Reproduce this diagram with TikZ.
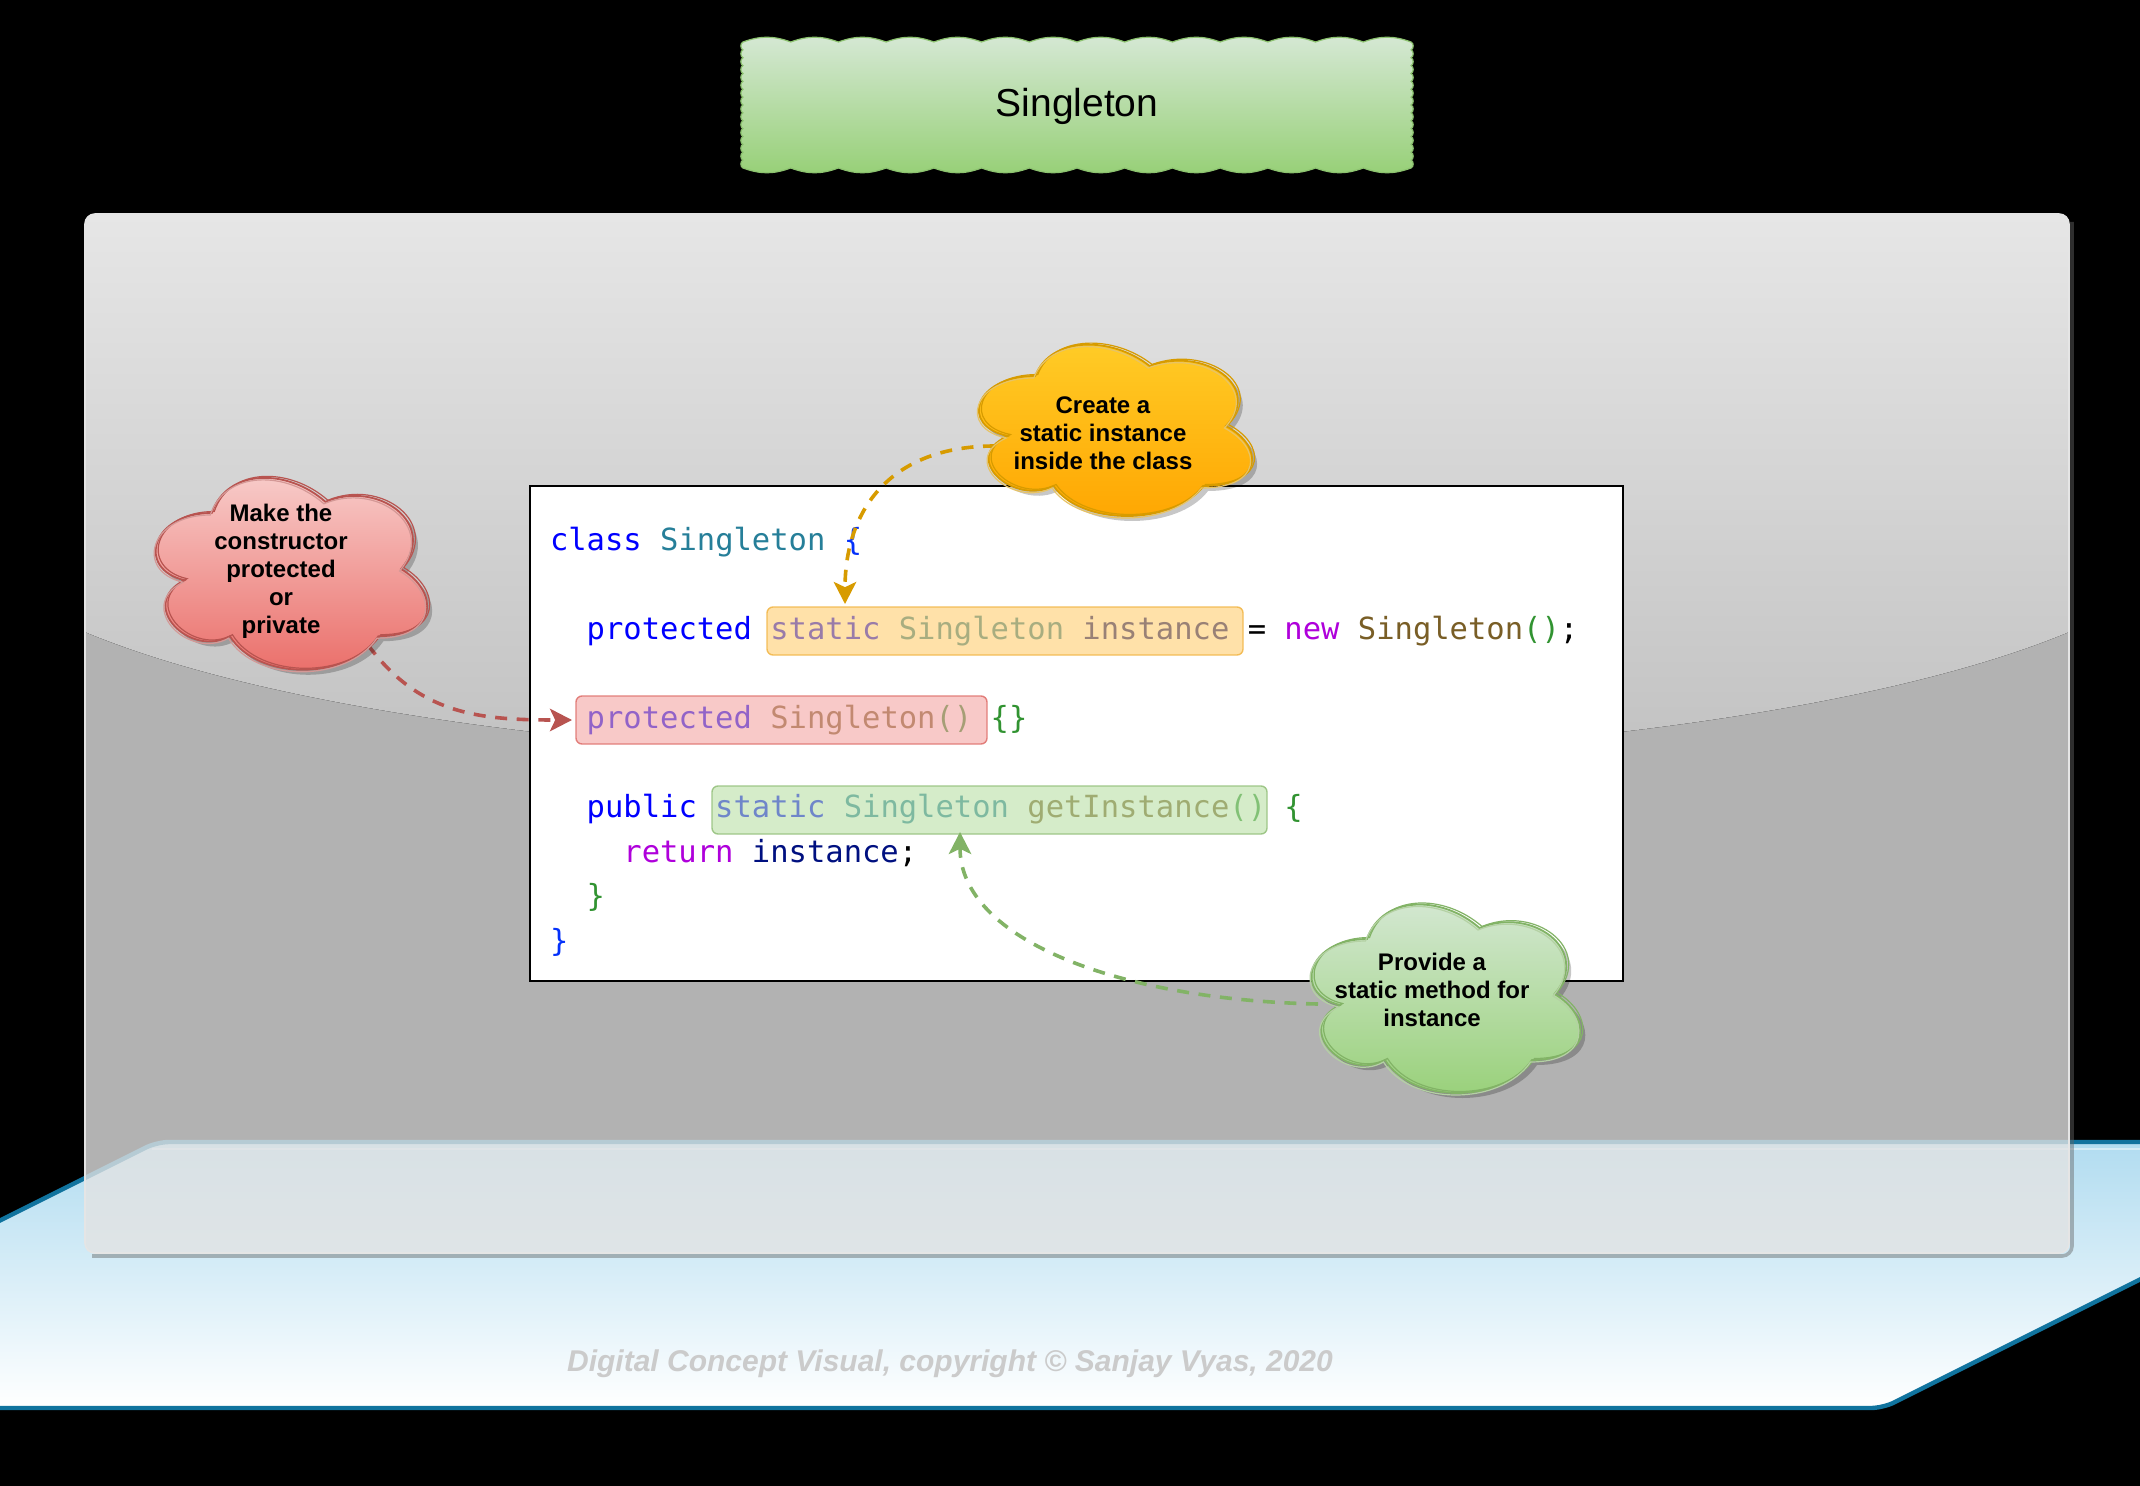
\documentclass[tikz,border=0pt]{standalone}
\usepackage{fontspec}
\setmainfont{Liberation Sans}
\newfontfamily\codefont{DejaVu Sans Mono}
\usetikzlibrary{arrows.meta,calc}

% syntax colours
\definecolor{kwblue}{HTML}{0000FF}
\definecolor{typeteal}{HTML}{267F99}
\definecolor{varnavy}{HTML}{001080}
\definecolor{ctrlpink}{HTML}{AF00DB}
\definecolor{funcbrown}{HTML}{795E26}
\definecolor{braceblue}{HTML}{0431FA}
\definecolor{bracegreen}{HTML}{319331}
% scene colours
\definecolor{floortop}{HTML}{B1DCF0}
\definecolor{floorline}{HTML}{10739E}
\definecolor{panelgray}{HTML}{E3E3E3}
\definecolor{glosstop}{HTML}{E6E6E6}
\definecolor{glossbot}{HTML}{BFBFBF}
\definecolor{titletop}{HTML}{D5E8D4}
\definecolor{titlebot}{HTML}{97D077}
\definecolor{titleline}{HTML}{8CC26F}
\definecolor{redtop}{HTML}{F8CECC}
\definecolor{redbot}{HTML}{EA6B66}
\definecolor{redline}{HTML}{B85450}
\definecolor{orangetop}{HTML}{FFCD28}
\definecolor{orangebot}{HTML}{FFA500}
\definecolor{orangeline}{HTML}{D79B00}
\definecolor{greentop}{HTML}{D5E8D4}
\definecolor{greenbot}{HTML}{97D077}
\definecolor{greenline}{HTML}{82B366}
\definecolor{hlorange}{HTML}{FFCD70}
\definecolor{hlorangeline}{HTML}{F2B84B}
\definecolor{hlred}{HTML}{F4A6A4}
\definecolor{hlredline}{HTML}{E07470}
\definecolor{hlgreen}{HTML}{B9E0A5}
\definecolor{hlgreenline}{HTML}{97C27F}
\definecolor{copygray}{HTML}{CBCBCB}

% cloud outline in a box: left, top, width, height
\newcommand\cloudpath[4]{%
  ({#1+0.25*#3},{#2+0.25*#4})
  .. controls ({#1+0.05*#3},{#2+0.25*#4}) and ({#1},{#2+0.5*#4}) .. ({#1+0.16*#3},{#2+0.55*#4})
  .. controls ({#1},{#2+0.66*#4}) and ({#1+0.18*#3},{#2+0.9*#4}) .. ({#1+0.31*#3},{#2+0.8*#4})
  .. controls ({#1+0.4*#3},{#2+#4}) and ({#1+0.7*#3},{#2+#4}) .. ({#1+0.8*#3},{#2+0.8*#4})
  .. controls ({#1+#3},{#2+0.8*#4}) and ({#1+#3},{#2+0.6*#4}) .. ({#1+0.875*#3},{#2+0.5*#4})
  .. controls ({#1+#3},{#2+0.3*#4}) and ({#1+0.8*#3},{#2+0.1*#4}) .. ({#1+0.625*#3},{#2+0.2*#4})
  .. controls ({#1+0.5*#3},{#2+0.05*#4}) and ({#1+0.3*#3},{#2+0.05*#4}) .. ({#1+0.25*#3},{#2+0.25*#4})
  -- cycle}

% sketchy shaded cloud: left, top, width, height, top colour, bottom colour, line colour
\newcommand\drawcloud[7]{%
  \fill[black, opacity=0.22, shift={(5,5)}] \cloudpath{#1}{#2}{#3}{#4};
  \path[top color=#5, bottom color=#6, draw=#7, line width=0.45pt] \cloudpath{#1}{#2}{#3}{#4};
  \draw[#7, line width=0.3pt, shift={(2.5,-1.5)}] \cloudpath{#1}{#2}{#3}{#4};
  \draw[#7!60!white, line width=0.3pt, shift={(-1.5,2)}] \cloudpath{#1}{#2}{#3}{#4};
}

\tikzset{
  codeline/.style={anchor=base west, inner sep=0pt, outer sep=0pt,
    font=\codefont\fontsize{7.625pt}{11pt}\selectfont},
  hlbox/.style={rounded corners=1.5pt, inner sep=0pt, outer sep=0pt,
    minimum height=12pt, fill opacity=0.6, draw opacity=0.9, line width=0.35pt},
  notetext/.style={align=center, inner sep=0pt, text=black,
    font=\fontsize{6pt}{7pt}\selectfont\bfseries},
  hintarrow/.style={line width=0.9pt, dash pattern=on 3pt off 2.4pt,
    -{Stealth[length=5.5pt,width=5.6pt,inset=1.3pt]}},
  codebox/.style={draw=black, fill=white, line width=0.5pt, inner sep=0pt, outer sep=0pt}
}

\begin{document}
\begin{tikzpicture}[x=0.25pt,y=-0.25pt]
  % canvas
  \fill[black] (0,0) rectangle (2140,1486);
  \useasboundingbox (0,0) rectangle (2140,1486);

  % floor
  \begin{scope}
    \clip (0,0) rectangle (2140,1486);
    \path[top color=floortop, bottom color=white, draw=floorline, line width=1.1pt,
          rounded corners=3pt]
      (157,1142) -- (2415,1142) -- (1883,1408) -- (-375,1408) -- cycle;
    \draw[white, opacity=0.45, line width=0.6pt] (152,1149) -- (2140,1149);
  \end{scope}

  % glass panel
  \draw[black!60, opacity=0.45, line width=0.9pt, rounded corners=2.5pt]
    (2072,222) -- (2072,1256) -- (92,1256);
  \fill[panelgray, opacity=0.79, rounded corners=2.5pt] (85,214) rectangle (2069,1253);
  \begin{scope}
    \clip[rounded corners=2.5pt] (85,214) rectangle (2069,1253);
    \fill[top color=glosstop, bottom color=glossbot]
      (85,214) -- (2069,214) -- (2069,632)
      .. controls (1654,805) and (500,805) .. (85,632) -- cycle;
  \end{scope}
  \draw[white!80!gray, line width=0.4pt, rounded corners=2.5pt] (85,214) rectangle (2069,1253);

  % code listing
  \node[codebox, minimum width=273.25pt, minimum height=123.75pt] (code) at (1076.5,733.5) {};
  \node[codeline] (ln1) at (550,550.5) {\textcolor{kwblue}{class} \textcolor{typeteal}{Singleton} \textcolor{braceblue}{\{}};
  \node[codeline] (ln2) at (586.7,639.5) {\textcolor{kwblue}{protected} \textcolor{kwblue}{static} \textcolor{typeteal}{Singleton} \textcolor{varnavy}{instance} = \textcolor{ctrlpink}{new} \textcolor{funcbrown}{Singleton}\textcolor{bracegreen}{()};};
  \node[codeline] (ln3) at (586.7,728.5) {\textcolor{kwblue}{protected} \textcolor{funcbrown}{Singleton}\textcolor{bracegreen}{()} \textcolor{bracegreen}{\{\}}};
  \node[codeline] (ln4) at (586.7,817.5) {\textcolor{kwblue}{public} \textcolor{kwblue}{static} \textcolor{typeteal}{Singleton} \textcolor{funcbrown}{getInstance}\textcolor{bracegreen}{()} \textcolor{bracegreen}{\{}};
  \node[codeline] (ln5) at (623.4,862) {\textcolor{ctrlpink}{return} \textcolor{varnavy}{instance};};
  \node[codeline] (ln6) at (586.7,906.5) {\textcolor{bracegreen}{\}}};
  \node[codeline] (ln7) at (550,951) {\textcolor{braceblue}{\}}};

  % highlights over the listing
  \node[hlbox, fill=hlorange, draw=hlorangeline, minimum width=119pt] (hlO) at (1005,631) {};
  \node[hlbox, fill=hlred, draw=hlredline, minimum width=102.75pt] (hlR) at (781.5,720) {};
  \node[hlbox, fill=hlgreen, draw=hlgreenline, minimum width=138.75pt] (hlG) at (989.5,810) {};

  % callout connectors
  \coordinate (oStart) at (995,446);
  \coordinate (oTip) at ($(hlO.north west)+(78,-3)$);
  \coordinate (rStart) at (368,645);
  \coordinate (rTip) at ($(hlR.west)+(-4,0)$);
  \coordinate (gStart) at (1318,1004);
  \coordinate (gTip) at ($(hlG.south west)+(248,-2)$);
  \draw[hintarrow, orangeline] (oStart) .. controls (890,446) and (845,510) .. (oTip);
  \draw[hintarrow, redline] (rStart) .. controls (420,715) and (480,720) .. (rTip);
  \draw[hintarrow, greenline] (gStart) .. controls (1120,1000) and (960,940) .. (gTip);

  % callout clouds
  \drawcloud{136}{457}{303}{224}{redtop}{redbot}{redline}
  \drawcloud{959}{326}{305}{200}{orangetop}{orangebot}{orangeline}
  \drawcloud{1292}{884}{300}{220}{greentop}{greenbot}{greenline}
  \node[notetext] (cR) at (281,571) {Make the\\constructor\\protected\\or\\private};
  \node[notetext] (cO) at (1103,433) {Create a\\static instance\\inside the class};
  \node[notetext] (cG) at (1432,990) {Provide a\\static method for\\instance};

  % title banner with scalloped edges
  \path[top color=titletop, bottom color=titlebot, draw=titleline, line width=0.3pt]
    (743,42)
    \foreach \i in {1,...,14} { to[bend left=20] ({743+\i*47.714},42) }
    \foreach \i in {1,...,16} { to[bend left=70] (1411,{42+\i*7.875}) }
    \foreach \i in {1,...,14} { to[bend left=20] ({1411-\i*47.714},168) }
    \foreach \i in {1,...,16} { to[bend left=70] (743,{168-\i*7.875}) }
    -- cycle;
  \node[anchor=base, inner sep=0pt, font=\fontsize{9.75pt}{12pt}\selectfont] (title) at (1077,117) {Singleton};

  % footer
  \node[anchor=base, inner sep=0pt, text=copygray, font=\fontsize{7.5pt}{9pt}\selectfont\bfseries\itshape]
    (copyright) at (950,1371) {Digital Concept Visual, copyright © Sanjay Vyas, 2020};
\end{tikzpicture}
\end{document}
